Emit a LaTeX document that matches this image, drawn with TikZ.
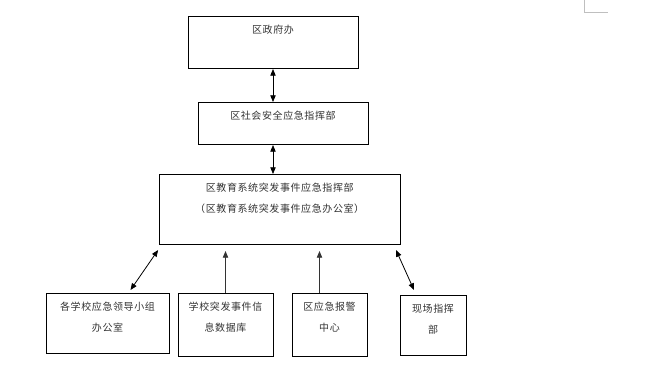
\documentclass[tikz,border=0pt]{standalone}
\usepackage{fontspec}
\newfontfamily\cnfont[LetterSpace=6]{Noto Sans CJK SC}
\usetikzlibrary{positioning,arrows.meta,calc}

% box contents: width, height, lines (text set at the top)
\newcommand{\boxtext}[3]{\parbox[c][#2][t]{#1}{\centering\fontsize{7.5pt}{15.75pt}\cnfont\vspace*{6.5pt}#3\par}}

\begin{document}
\begin{tikzpicture}[
  x=0.75pt, y=-0.75pt,
  unit/.style={draw, line width=0.75pt, inner sep=0pt, anchor=north, text=black!80},
  twoway/.style={{Triangle[length=5pt,width=4pt]}-{Triangle[length=5pt,width=4pt]}, line width=0.6pt},
  oneway/.style={-{Triangle[length=5pt,width=4pt]}, line width=0.6pt, black!80},
]
  \useasboundingbox (0,0) rectangle (664,380);

  % page corner mark
  \draw[gray!50, line width=0.5pt] (584,0) -- (584,12) -- (608,12);

  \node[unit] (gov) at (273,16)  {\boxtext{127.5pt}{39pt}{区政府办}};
  \node[unit] (soc) at (283,102) {\boxtext{127.5pt}{31.5pt}{区社会安全应急指挥部}};
  \node[unit] (edu) at (279.7,174) {\boxtext{180.75pt}{52.5pt}{区教育系统突发事件应急指挥部\\（区教育系统突发事件应急办公室）}};

  \node[unit] (lead)  at (107.5,293) {\boxtext{92.25pt}{45pt}{各学校应急领导小组\\办公室}};
  \node[unit] (db)    at (225.5,293) {\boxtext{71.25pt}{47.25pt}{学校突发事件信\\息数据库}};
  \node[unit] (alarm) at (329.5,293) {\boxtext{56.25pt}{47.25pt}{区应急报警\\中心}};
  \node[unit] (scene) at (433,295)   {\boxtext{49.5pt}{45pt}{现场指挥\\部}};

  % chain of command
  \draw[twoway] (gov.south) -- (gov.south |- soc.north);
  \draw[twoway] (soc.south -| gov.south) -- (edu.north -| gov.south);

  % lower units
  \draw[twoway] ([shift={(23,-3)}]lead.north) -- ([shift={(-0.6,5)}]edu.south west);
  \draw[oneway, shorten >=4.5pt] (db.north) -- (db.north |- edu.south);
  \draw[oneway, shorten >=4.5pt] ([shift={(-10,0)}]alarm.north) -- ([shift={(-10,0)}]alarm.north |- edu.south);
  \draw[twoway] ([shift={(-4.7,5)}]edu.south east) -- ([shift={(-19,-5)}]scene.north);
\end{tikzpicture}
\end{document}
